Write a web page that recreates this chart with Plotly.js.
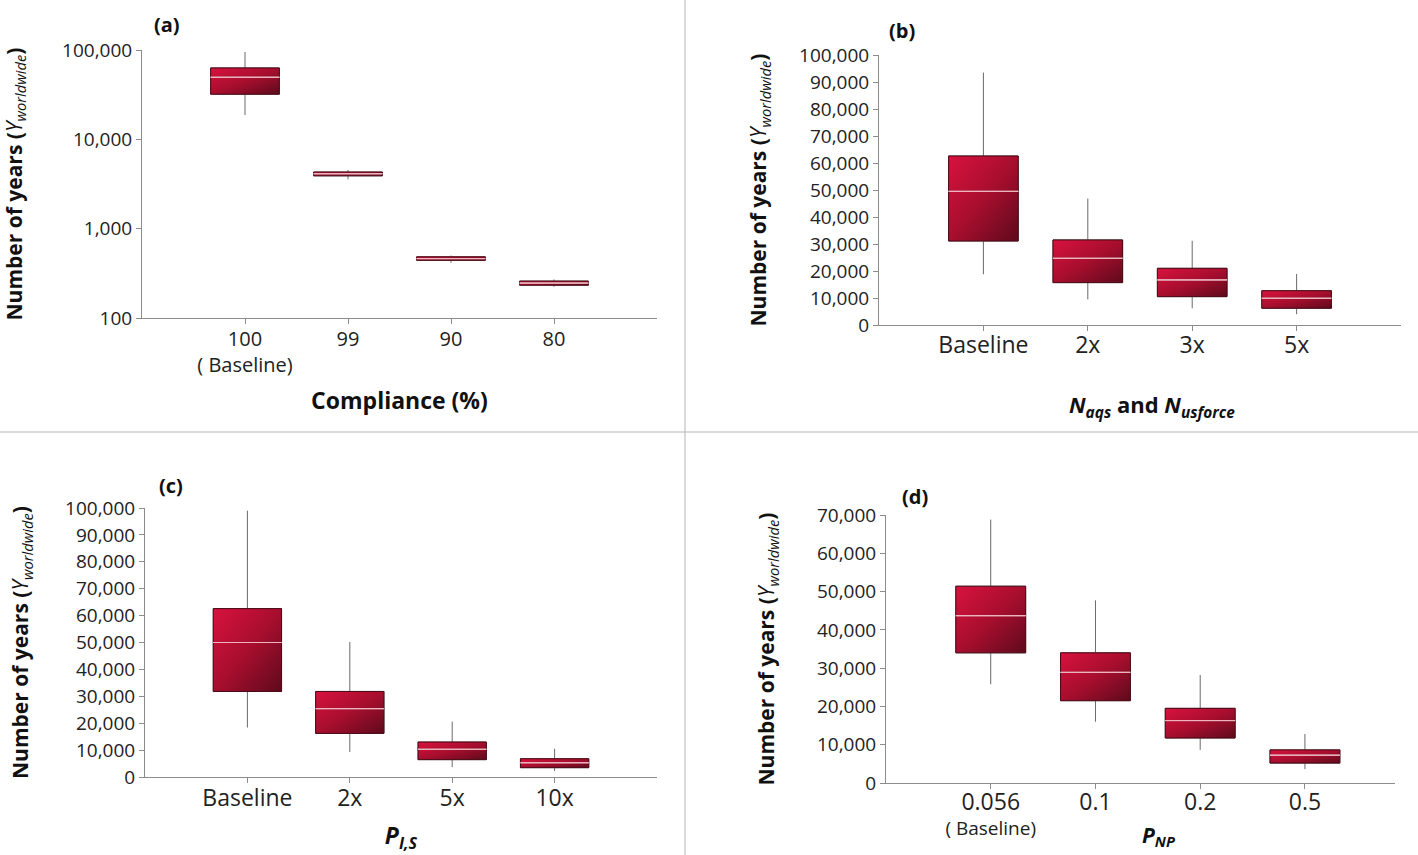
<!DOCTYPE html>
<html>
<head>
<meta charset="utf-8">
<script src="https://cdn.plot.ly/plotly-3.0.1.min.js"></script>
<style>html,body{margin:0;padding:0;background:#fff;}#chart{width:1418px;height:855px;}</style>
</head>
<body>
<div id="chart"></div>
<script>
// ---------- data ----------
const catsA = ['100', '99', '90', '80'];
const tickTextA = ['100<br>( Baseline)', '99', '90', '80'];
const q1A  = [32000, 3905, 442, 233];
const medA = [49500, 4120, 462, 246];
const q3A  = [63000, 4305, 484, 259];
const loA  = [18700, 3565, 415, 223];
const hiA  = [95000, 4530, 500, 270];

const catsB = ['Baseline', '2x', '3x', '5x'];
const q1B  = [31100, 15700, 10500, 6200];
const medB = [49500, 24700, 16700, 9900];
const q3B  = [62600, 31500, 21000, 12700];
const loB  = [18800, 9500, 6200, 4000];
const hiB  = [93500, 46800, 31200, 18900];

const catsC = ['Baseline', '2x', '5x', '10x'];
const q1C  = [31800, 16200, 6450, 3470];
const medC = [50000, 25400, 10300, 5300];
const q3C  = [62600, 31800, 13000, 6800];
const loC  = [18400, 9300, 3700, 2200];
const hiC  = [99000, 50200, 20600, 10500];

const catsD = ['0.056', '0.1', '0.2', '0.5'];
const tickTextD = ['<span style="font-size:23px">0.056</span><br>( Baseline)',
                   '<span style="font-size:23px">0.1</span>',
                   '<span style="font-size:23px">0.2</span>',
                   '<span style="font-size:23px">0.5</span>'];
const q1D  = [34000, 21500, 11750, 5200];
const medD = [43700, 28900, 16300, 7260];
const q3D  = [51400, 34000, 19500, 8650];
const loD  = [25800, 16000, 8650, 3630];
const hiD  = [68800, 47700, 28200, 12800];

// ---------- styles ----------
const FONT = 'Open Sans, Arial, sans-serif';
const BODY_FILL = 'rgb(170, 18, 48)';
const BODY_LINE = '#4a0a16';
const WHISK = '#6a6a6a';
const MED = '#eeb4bf';
const BOXW = 0.667;

function boxTraces(cats, q1, med, q3, lo, hi, xa, ya) {
  const common = {type: 'box', x: cats, xaxis: xa, yaxis: ya, width: BOXW,
                  whiskerwidth: 0, boxpoints: false, showlegend: false, hoverinfo: 'skip'};
  return [
    Object.assign({}, common, {q1: q1, median: med, q3: q3, lowerfence: lo, upperfence: hi,
      fillcolor: 'rgba(0,0,0,0)', line: {color: WHISK, width: 1}}),
    Object.assign({}, common, {q1: q1, median: med, q3: q3, lowerfence: q1, upperfence: q3,
      fillcolor: BODY_FILL, line: {color: BODY_LINE, width: 1}}),
    Object.assign({}, common, {q1: med, median: med, q3: med, lowerfence: med, upperfence: med,
      fillcolor: 'rgba(0,0,0,0)', line: {color: MED, width: 1}})
  ];
}

const data = [].concat(
  boxTraces(catsA, q1A, medA, q3A, loA, hiA, 'x', 'y'),
  boxTraces(catsB, q1B, medB, q3B, loB, hiB, 'x2', 'y2'),
  boxTraces(catsC, q1C, medC, q3C, loC, hiC, 'x3', 'y3'),
  boxTraces(catsD, q1D, medD, q3D, loD, hiD, 'x4', 'y4')
);

const W = 1418, H = 855;
const px = v => v / W;
const py = v => 1 - v / H;

const axisBase = {
  showline: true, linecolor: '#8c8c8c', linewidth: 1,
  ticks: 'outside', ticklen: 5, tickcolor: '#8c8c8c',
  showgrid: false, zeroline: false, fixedrange: true,
  tickfont: {family: FONT, size: 19, color: '#222'}
};
function xAxis(domain, anchor, cats, ticktext, range, title, standoff, tsize, tls) {
  return Object.assign({}, axisBase, {
    domain: domain, anchor: anchor, type: 'category',
    categoryorder: 'array', categoryarray: cats,
    tickmode: 'array', tickvals: cats, ticktext: ticktext, range: range,
    ticklabelstandoff: tls,
    tickfont: {family: FONT, size: tsize, color: '#222'},
    title: {text: title, standoff: standoff, font: {family: FONT, size: 23, color: '#111'}}
  });
}
const yTitle = '<b>Number of years (</b><i>Y<sub>worldwide</sub></i><b>)</b>';
function yAxis(domain, anchor, extra, standoff) {
  return Object.assign({}, axisBase, {
    domain: domain, anchor: anchor,
    title: {text: yTitle, standoff: standoff, font: {family: FONT, size: 21, color: '#111'}}
  }, extra);
}

const tick10k = [0,10000,20000,30000,40000,50000,60000,70000,80000,90000,100000];
const tick10k7 = [0,10000,20000,30000,40000,50000,60000,70000];

function ann(text, x, y, size) {
  return {text: text, x: px(x), y: py(y), xref: 'paper', yref: 'paper', showarrow: false,
          xanchor: 'center', yanchor: 'middle', font: {family: FONT, size: size, color: '#111'}};
}

const layout = {
  width: W, height: H,
  margin: {l: 0, r: 0, t: 0, b: 0},
  paper_bgcolor: '#fff', plot_bgcolor: '#fff',
  boxmode: 'overlay',
  font: {family: FONT, color: '#222'},
  xaxis:  xAxis([px(142), px(657)], 'y',  catsA, tickTextA, [-1, 4], '<b>Compliance (%)</b>', 15, 20, -2),
  yaxis:  yAxis([py(318), py(50)], 'x', {type: 'log', range: [2, 5],
            tickmode: 'array', tickvals: [100, 1000, 10000, 100000],
            ticktext: ['100', '1,000', '10,000', '100,000']}, 36),
  xaxis2: xAxis([px(879), px(1401)], 'y2', catsB, catsB, [-1, 4], '', 0, 23, -6),
  yaxis2: yAxis([py(325), py(55)], 'x2', {range: [0, 100000], tickmode: 'array',
            tickvals: tick10k, tickformat: ',.0f'}, 26),
  xaxis3: xAxis([px(145), px(657)], 'y3', catsC, catsC, [-1, 4],
            '<b><i>P<sub>I,S</sub></i></b>', 16, 23, -5),
  yaxis3: yAxis([py(777), py(508)], 'x3', {range: [0, 100000], tickmode: 'array',
            tickvals: tick10k, tickformat: ',.0f'}, 30),
  xaxis4: xAxis([px(886), px(1395)], 'y4', catsD, tickTextD, [-1, 3.86], '', 0, 19, -2),
  yaxis4: yAxis([py(783), py(515)], 'x4', {range: [0, 70000], tickmode: 'array',
            tickvals: tick10k7, tickformat: ',.0f'}, 36),
  shapes: [
    {type: 'line', xref: 'paper', yref: 'paper', x0: px(685), x1: px(685), y0: 0, y1: 1,
     line: {color: '#b5b5b5', width: 1}},
    {type: 'line', xref: 'paper', yref: 'paper', x0: 0, x1: 1, y0: py(432), y1: py(432),
     line: {color: '#b5b5b5', width: 1}}
  ],
  annotations: [
    ann('<b>(a)</b>', 167, 25, 20),
    ann('<b>(b)</b>', 902, 30, 20),
    ann('<b>(c)</b>', 171, 485, 20),
    ann('<b>(d)</b>', 915, 497, 20),
    ann('<b><i>N<sub>aqs</sub></i> and <i>N<sub>usforce</sub></i></b>', 1152, 406, 22),
    ann('<b><i>P<sub>NP</sub></i></b>', 1159, 836, 21)
  ]
};

Plotly.newPlot('chart', data, layout, {staticPlot: true, displayModeBar: false}).then(function (gd) {
  const svg = gd.querySelector('.main-svg');
  const NS = 'http://www.w3.org/2000/svg';
  let defs = svg.querySelector('defs');
  if (!defs) { defs = document.createElementNS(NS, 'defs'); svg.insertBefore(defs, svg.firstChild); }
  const g = document.createElementNS(NS, 'linearGradient');
  g.setAttribute('id', 'boxgrad');
  g.setAttribute('x1', '0'); g.setAttribute('y1', '0');
  g.setAttribute('x2', '1'); g.setAttribute('y2', '1');
  [['0', '#d8123e'], ['0.5', '#a80e2e'], ['1', '#5e0a1c']].forEach(function (s) {
    const st = document.createElementNS(NS, 'stop');
    st.setAttribute('offset', s[0]); st.setAttribute('stop-color', s[1]);
    g.appendChild(st);
  });
  defs.appendChild(g);
  gd.querySelectorAll('path.box').forEach(function (p) {
    if (p.style.fill === BODY_FILL) { p.style.fill = 'url(#boxgrad)'; }
  });
});
</script>
</body>
</html>
